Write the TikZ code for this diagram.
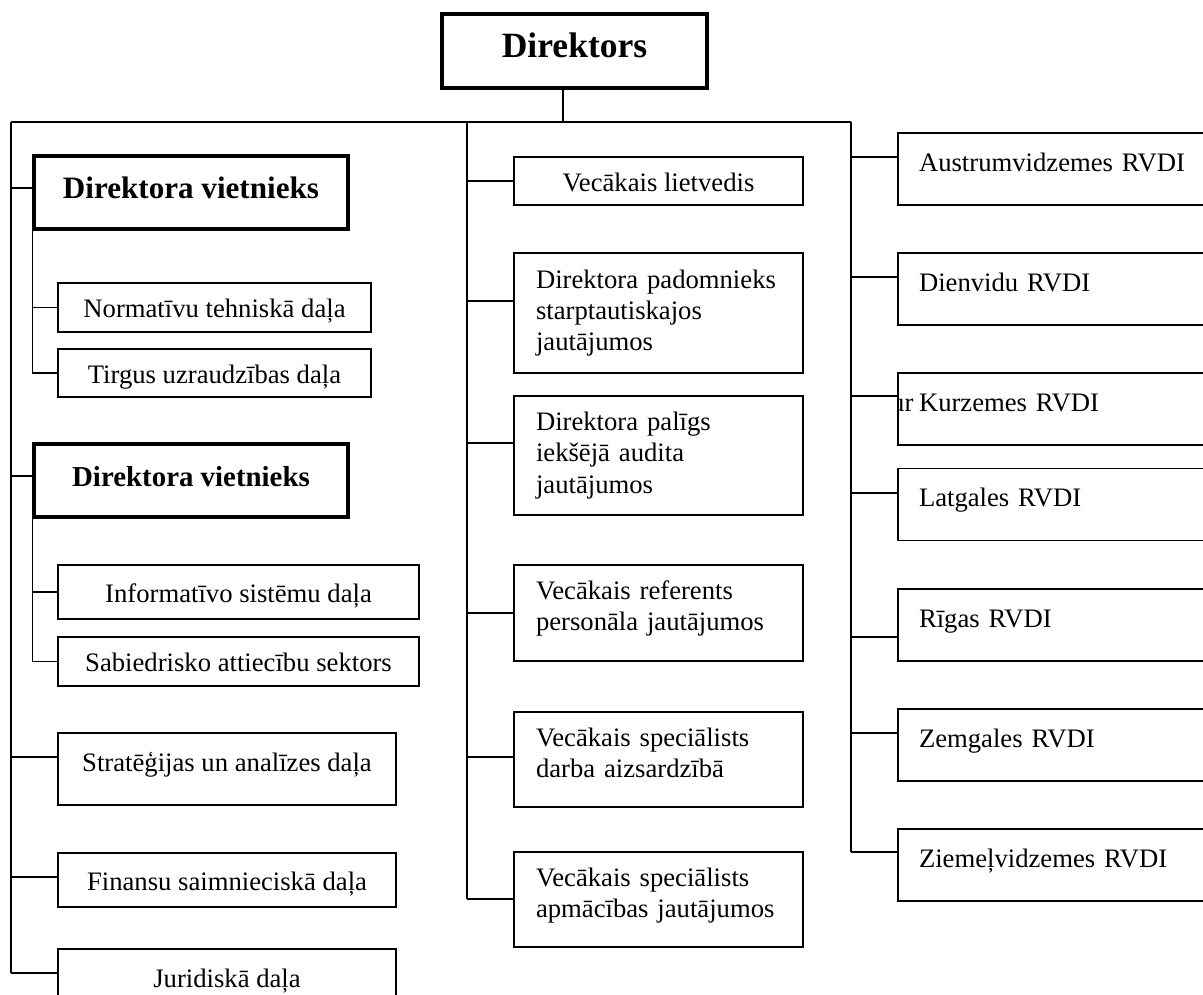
\documentclass[tikz,border=0pt]{standalone}
\usepackage{fontspec}
\setmainfont{Liberation Serif}
\usepackage{tikz}
\tikzset{
  conn/.style={line width=0.8pt},
  box/.style={draw, line width=0.8pt, inner sep=0pt, font=\fontsize{12}{14}\selectfont},
  sbox/.style={box, text height=10.5pt, text depth=1.5pt},
  chief/.style={draw, line width=1.4pt, inner sep=0pt, text height=9pt, text depth=3.5pt},
  raised/.style={text height=6pt, text depth=4pt},
  midbox/.style={box, align=left, inner xsep=9.9pt, text width=110.25pt},
  twoline/.style={text height=8pt, text depth=20pt},
  rbox/.style={box, raised, align=left, inner xsep=9.45pt, text width=130.5pt, minimum height=32.4pt}
}

\begin{document}
\begin{tikzpicture}[x=0.45pt,y=-0.45pt]
\useasboundingbox (0,0) rectangle (1203,994);
\clip (0,0) rectangle (1203,994);

\node[chief, minimum width=119.25pt, minimum height=33.3pt,
    font=\bfseries\fontsize{16}{19}\selectfont] at (574.5,51) (dir) {Direktors};

% left column
\node[chief, minimum width=141.3pt, minimum height=32.85pt,
    font=\bfseries\fontsize{14}{17}\selectfont] at (191,192.5) (dv1) {Direktora vietnieks};
\node[sbox, minimum width=140.85pt, minimum height=22.05pt] at (214.5,307.5) (norm) {Normatīvu tehniskā daļa};
\node[sbox, minimum width=140.85pt, minimum height=21.6pt] at (214.5,373) (tirg) {Tirgus uzraudzības daļa};
\node[chief, minimum width=141.3pt, minimum height=32.85pt,
    font=\bfseries\fontsize{13}{16}\selectfont] at (191,480.5) (dv2) {Direktora vietnieks};
\node[sbox, minimum width=162.45pt, minimum height=24.3pt] at (238.5,592) (info) {Informatīvo sistēmu daļa};
\node[sbox, minimum width=162.45pt, minimum height=22.05pt] at (238.5,661.5) (sab) {Sabiedrisko attiecību sektors};
\node[box, raised, minimum width=152.1pt, minimum height=32.4pt] at (227,769) (strat) {Stratēģijas un analīzes daļa};
\node[sbox, minimum width=152.1pt, minimum height=24.3pt] at (227,880) (fin) {Finansu saimnieciskā daļa};
\node[sbox, minimum width=152.1pt, minimum height=25.2pt] at (227,977) (jur) {Juridiskā daļa};

% middle column
\node[sbox, minimum width=130.05pt, minimum height=21.6pt] at (658.5,181) (liet) {Vecākais lietvedis};
\node[midbox, minimum height=54pt] at (658.5,313) (pad) {Direktora padomnieks\\starptautiskajos\\jautājumos};
\node[midbox, minimum height=53.55pt] at (658.5,455.5) (pal) {Direktora palīgs\\iekšējā audita\\jautājumos};
\node[midbox, twoline, minimum height=43.2pt] at (658.5,613) (ref) {Vecākais referents\\personāla jautājumos};
\node[midbox, twoline, minimum height=42.75pt] at (658.5,759.5) (darb) {Vecākais speciālists\\darba aizsardzībā};
\node[midbox, twoline, minimum height=42.75pt] at (658.5,899.5) (apm) {Vecākais speciālists\\apmācības jautājumos};

% right column
\node[rbox] at (1064,169) (aus) {Austrumvidzemes RVDI};
\node[rbox] at (1064,289) (dien) {Dienvidu RVDI};
\begin{scope}
\clip (897,360) rectangle (1240,460);
\node[rbox] at (1064,409) (kur) {\llap{ur\hspace{2.5pt}}Kurzemes RVDI};
\end{scope}
\node[rbox] at (1064,504.5) (lat) {Latgales RVDI};
\node[rbox] at (1064,625) (rig) {Rīgas RVDI};
\node[rbox] at (1064,745) (zem) {Zemgales RVDI};
\node[rbox] at (1064,865) (zie) {Ziemeļvidzemes RVDI};

% lines
\coordinate (top) at (563,122);
\coordinate (lt) at (11,122);
\coordinate (mt) at (467,122);
\coordinate (rt) at (851,122);
\draw[conn] (dir.south -| top) -- (top);
\draw[conn] (lt) -- (rt);

\foreach \n/\y in {dv1/188, dv2/476, strat/757, fin/877, jur/973}
  {\coordinate (l\n) at (11,\y);
   \draw[conn] (l\n) -- (l\n -| \n.west);}
\draw[conn] (lt) -- (ljur);

\foreach \n/\y in {liet/181, pad/301, pal/443, ref/613, darb/757, apm/899}
  {\coordinate (m\n) at (467,\y);
   \draw[conn] (m\n) -- (m\n -| \n.west);}
\draw[conn] (mt) -- (mapm);

\foreach \n/\y in {aus/157, dien/277, kur/396, lat/493, rig/637, zem/733, zie/852}
  {\coordinate (r\n) at (851,\y);
   \draw[conn] (r\n) -- (r\n -| \n.west);}
\draw[conn] (rt) -- (rzie);

\draw[conn] (dv1.south west) |- (tirg.west);
\draw[conn] (norm.west) -- (norm.west -| dv1.south west);
\draw[conn] (dv2.south west) |- (sab.west);
\draw[conn] (info.west) -- (info.west -| dv2.south west);

\end{tikzpicture}
\end{document}
